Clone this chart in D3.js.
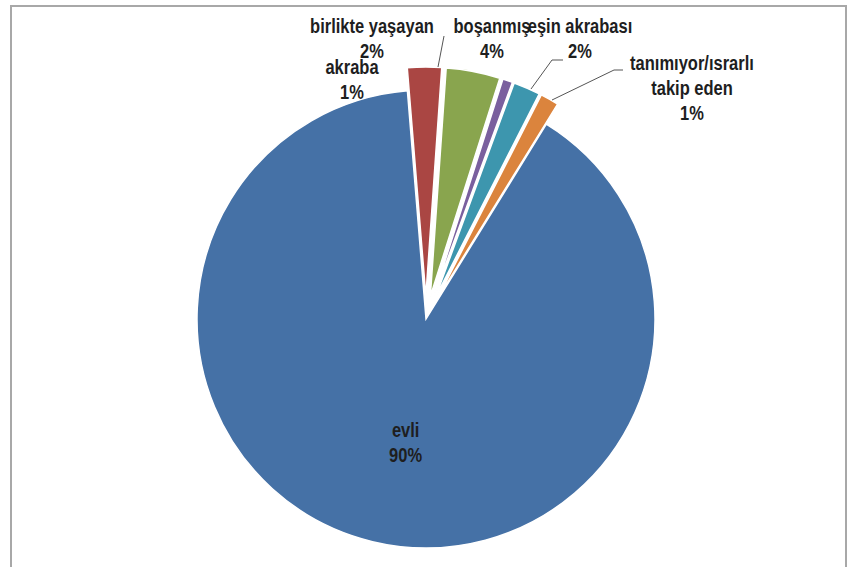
<!DOCTYPE html>
<html>
<head>
<meta charset="utf-8">
<script src="https://cdn.jsdelivr.net/npm/d3@7"></script>
<style>
  body { margin: 0; background: #fff; }
  text { font-family: "Liberation Sans", Arial, sans-serif; font-weight: bold; fill: #1e1e1e; }
</style>
</head>
<body>
<div id="chart"></div>
<script>
// data
const categories = ['evli', 'birlikte yaşayan', 'boşanmış', 'akraba', 'eşin akrabası', 'tanımıyor/ısrarlı takip eden']
const values = [89.9, 2.4, 3.8, 0.7, 1.9, 1.3]
const colors = ['#4571A6', '#AA4643', '#89A54E', '#7A5F9E', '#3D96AE', '#DB843D']

// canvas
const width = 848,
  height = 567,
  cx = 426,
  cy = 319,
  radius = 229,
  explode = 23

let svg = d3.select('#chart')
  .append('svg')
  .attr('width', width)
  .attr('height', height)

// frame
svg.append('rect')
  .attr('x', 11)
  .attr('y', 6)
  .attr('width', 835)
  .attr('height', 600)
  .attr('fill', 'none')
  .attr('stroke', '#a8a8a8')
  .attr('stroke-width', 2)

const data = categories.map((c, i) => ({ name: c, value: values[i], color: colors[i] }))

const pie = d3.pie()
  .sort(null)
  .value(d => d.value)
  .startAngle(31.7 * Math.PI / 180)
  .endAngle(31.7 * Math.PI / 180 + 2 * Math.PI)

const arc = d3.arc().innerRadius(0).outerRadius(radius)
const arcs = pie(data)

let g = svg.append('g').attr('transform', `translate(${cx},${cy})`)

g.selectAll('path')
  .data(arcs)
  .enter()
  .append('path')
  .attr('d', arc)
  .attr('fill', d => d.data.color)
  .attr('stroke', '#fff')
  .attr('stroke-width', 1.5)
  .attr('transform', (d, i) => {
    if (i === 0) return null
    const a = (d.startAngle + d.endAngle) / 2
    return `translate(${explode * Math.sin(a)},${-explode * Math.cos(a)})`
  })

// label layout (hand placed, like in the original)
const labelPos = [
  null,
  { x: 372, y: 33, lines: ['birlikte yaşayan'] },
  { x: 492, y: 33, lines: ['boşanmış'] },
  { x: 352, y: 74, lines: ['akraba'] },
  { x: 580, y: 33, lines: ['eşin akrabası'] },
  { x: 692, y: 70, lines: ['tanımıyor/ısrarlı', 'takip eden'] }
]
const leaders = [
  null,
  [[444, 36], [438, 67]],
  null,
  null,
  [[563, 60], [552, 60], [531, 89]],
  [[623, 70], [614, 70], [552, 100]]
]
const lineH = 25 / 1.2
const pct = v => Math.round(v) + '%'

const inner = d3.arc().innerRadius(radius * 0.53).outerRadius(radius * 0.53)

arcs.forEach((d, i) => {
  let lp = labelPos[i]
  let x, y, lines
  if (!lp) {
    const c = inner.centroid(d)
    x = cx + c[0] + 8
    y = cy + c[1]
    lines = [d.data.name]
  } else {
    x = lp.x; y = lp.y; lines = lp.lines
  }
  const t = svg.append('text')
    .attr('transform', `translate(${x},${y}) scale(1,1.2)`)
    .attr('text-anchor', 'middle')
    .style('font-size', '16.5px')
  lines.concat([pct(d.data.value)]).forEach((s, k) => {
    t.append('tspan').attr('x', 0).attr('dy', k === 0 ? 0 : lineH).text(s)
  })
  if (leaders[i]) {
    svg.append('path')
      .attr('d', d3.line()(leaders[i]))
      .attr('fill', 'none')
      .attr('stroke', '#555')
      .attr('stroke-width', 1)
  }
})
</script>
</body>
</html>
